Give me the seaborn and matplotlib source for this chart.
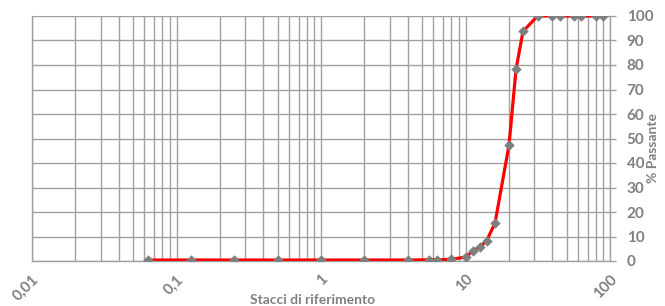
import seaborn as sns
import matplotlib.pyplot as plt
import matplotlib.ticker as mticker
import pandas as pd

# sieve openings (mm) and cumulative % passing
sieves = [0.063, 0.125, 0.25, 0.5, 1, 2, 4, 5.6, 6.3, 8, 10, 11.2, 12.5, 14,
          16, 20, 22.4, 25, 31.5, 40, 45, 56, 63, 80, 90]
passing = [0.4, 0.4, 0.4, 0.4, 0.4, 0.4, 0.4, 0.5, 0.5, 0.7, 1.6, 4.0, 5.6, 8.3,
           15.4, 47.3, 78.5, 93.7, 100, 100, 100, 100, 100, 100, 100]

x_ticks = [0.01, 0.1, 1, 10, 100]
x_tick_labels = ['0,01', '0,1', '1', '10', '100']
y_ticks = list(range(0, 101, 10))

df = pd.DataFrame({'sieve': sieves, 'passing': passing})

sns.set_theme(style='white')
plt.rcParams['font.family'] = ['Lato', 'DejaVu Sans']

GREY = '#808080'
GRID = '#a0a0a0'

fig = plt.figure(figsize=(6.65, 3.06), dpi=100)
ax = fig.add_axes([32 / 665, 1 - 261 / 306, (610 - 32) / 665, (261 - 16) / 306])

sns.lineplot(data=df, x='sieve', y='passing', ax=ax, color='#ff0000',
             linewidth=2.3, zorder=3)
sns.scatterplot(data=df, x='sieve', y='passing', ax=ax, marker='D', s=24,
                color='#7f7f7f', edgecolor='#7f7f7f', zorder=4)

ax.set_xscale('log')
ax.set_xlim(0.01, 100)
ax.set_ylim(0, 100)

ax.xaxis.set_minor_locator(mticker.LogLocator(base=10, subs=range(2, 10)))
ax.xaxis.set_minor_formatter(mticker.NullFormatter())
ax.set_xticks(x_ticks)
ax.set_xticklabels(x_tick_labels, rotation=45, ha='right', va='top',
                   rotation_mode='anchor')
ax.set_yticks(y_ticks)

ax.grid(True, which='major', axis='both', color=GRID, linewidth=1.0)
ax.grid(True, which='minor', axis='x', color=GRID, linewidth=1.0)
ax.set_axisbelow(True)

ax.yaxis.tick_right()
ax.yaxis.set_label_position('right')

ax.spines['top'].set_visible(False)
for side in ['left', 'bottom', 'right']:
    ax.spines[side].set_color(GRID)
    ax.spines[side].set_linewidth(1.0)

ax.tick_params(axis='x', which='major', direction='out', length=4, width=1,
               color=GRID, pad=4, labelsize=11, labelcolor=GREY)
ax.tick_params(axis='x', which='minor', length=0)
ax.tick_params(axis='y', which='major', direction='out', length=4, width=1,
               color=GRID, pad=8, labelsize=11, labelcolor=GREY,
               right=True, left=False)
for lbl in ax.get_xticklabels() + ax.get_yticklabels():
    lbl.set_fontweight('bold')

ax.set_xlabel('Stacci di riferimento', fontsize=10, fontweight='bold',
              color=GREY)
ax.set_ylabel('% Passante', fontsize=10, fontweight='bold', color=GREY)
ax.xaxis.set_label_coords(0.485, -0.135)
ax.xaxis.label.set_va('top')
ax.yaxis.set_label_coords(1.064, 0.46)

fig.savefig('out.png', dpi=100)
